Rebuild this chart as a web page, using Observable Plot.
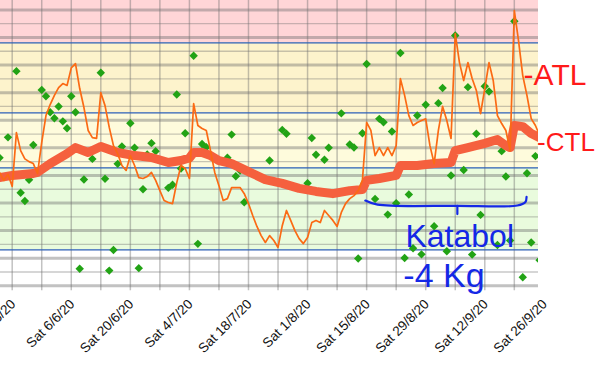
<!DOCTYPE html>
<html><head><meta charset="utf-8">
<script src="https://cdn.jsdelivr.net/npm/d3@7"></script>
<script src="https://cdn.jsdelivr.net/npm/@observablehq/plot@0.6"></script>
<style>html,body{margin:0;padding:0;background:#fff;}#chart{width:596px;height:379px;overflow:hidden;}</style>
</head><body><div id="chart"></div>
<script>
// ---- data (day offsets counted from startDate) ----
const startDate = "2020-05-20";
const atlValues = [
41.1,38.2,40.4,36.0,55.5,49.0,46.0,45.0,44.3,40.7,
52.0,61.7,65.7,69.0,71.8,73.3,72.6,79.0,80.5,71.5,
64.6,56.3,53.7,53.4,70.0,65.3,57.4,50.8,47.9,43.6,
41.8,47.2,43.6,39.2,38.9,39.6,41.1,38.2,34.5,30.9,
30.2,29.8,37.4,43.6,42.5,38.9,66.0,58.1,57.0,56.3,
49.0,41.1,36.3,30.9,31.6,35.6,35.6,35.6,33.4,29.8,
25.5,21.5,18.2,15.7,18.2,16.4,13.9,21.8,27.3,23.7,
20.0,17.1,15.3,17.5,22.9,23.7,22.9,27.3,25.5,23.7,
21.5,26.6,29.8,31.6,32.7,34.5,38.2,59.2,56.3,47.2,
50.1,47.2,50.1,47.2,50.8,75.1,69.0,61.7,58.1,59.2,
59.9,60.5,50.8,44.3,56.3,65.0,59.9,53.4,91.4,80.9,
74.4,80.9,75.1,70.8,62.4,71.5,80.9,74.4,61.7,58.8,
56.3,49.0,99.7,88.8,76.2,68.9,60.6,58.1,54.5];
const ctlDays   = [0,3,8,9,12,16,18,21,24,28,32,36,40,43,45,46,48,50,52,55,59,63,67,71,75,79,83,86,87,90,94,95,99,103,107,108,111,115,118,120,121,122,124,126,128];
const ctlValues = [39.2,40,40.7,41.1,44.3,47.9,50.1,48.3,50.5,48.3,47.2,46.5,44.7,45.4,46.3,48.3,48.3,47.2,45.4,44.3,41.4,38.5,37.1,35.3,34.2,33.4,34.5,34.9,38.2,38.9,40,43.6,43.6,44.3,44.7,49,50.1,51.6,53,50.8,50.1,58.1,57.7,55.2,53.7];
const weightDays   = [0,2,4,5,6,7,8,10,11,12,13,14,15,16,17,18,19,20,22,24,25,26,27,28,29,31,32,33,34,35,36,37,40,41,42,43,44,46,47,48,49,54,55,56,57,58,64,67,68,73,74,75,77,78,81,83,84,85,86,87,89,90,91,92,93,94,95,96,97,98,99,100,101,103,104,105,106,107,108,110,111,112,113,114,115,116,118,119,120,121,122,124,125,126,127,128];
const weightValues = [46.4,53.8,77.8,33.7,30.7,38.4,51.0,71.0,68.7,62.9,60.7,65.0,59.6,57.1,68.7,62.9,6.2,38.5,46.0,77.2,38.8,5.5,13.0,44.2,50.5,58.9,50.0,6.4,35.0,47.6,51.7,48.8,35.5,36.6,69.3,42.5,55.3,83.4,15.2,51.4,50.2,46.4,54.8,39.7,41.8,30.3,45.4,56.5,55.1,37.2,53.6,47.5,45.7,50.0,62.5,51.2,50.1,9.9,55.3,80.4,31.5,60.5,59.3,25.8,55.9,29.9,84.4,10.1,33.1,13.6,61.7,11.4,65.6,21.6,66.2,71.7,12.5,40.0,90.7,42.0,72.0,11.3,55.1,25.7,72.3,70.4,14.8,48.8,39.6,16.4,95.9,3.1,40.8,15.7,47.0,9.3];
const weekTicks  = ["2020-05-23","2020-05-30","2020-06-06","2020-06-13","2020-06-20","2020-06-27","2020-07-04","2020-07-11","2020-07-18","2020-07-25","2020-08-01","2020-08-08","2020-08-15","2020-08-22","2020-08-29","2020-09-05","2020-09-12","2020-09-19"];
const labelTicks = ["2020-05-23","2020-06-06","2020-06-20","2020-07-04","2020-07-18","2020-08-01","2020-08-15","2020-08-29","2020-09-12","2020-09-26"];
const labelTexts = ["Sat 23/5/20","Sat 6/6/20","Sat 20/6/20","Sat 4/7/20","Sat 18/7/20","Sat 1/8/20","Sat 15/8/20","Sat 29/8/20","Sat 12/9/20","Sat 26/9/20"];
const gridMajor = [0,10,20,30,40,50,60,70,80,90,100];
const gridMinor = [5,15,25,35,45,55,65,75,85,95];
const zoneLow   = [0, 13.04, 42.75, 62.68, 88.04];
const zoneHigh  = [13.04, 42.75, 62.68, 88.04, 103.4];
const zoneNames = ["white","green","lightyellow","yellow","red"];
const zoneLines = [13.04, 42.75, 62.68, 88.04];
// hand-drawn notes (day offset, value)
const bracketMain = [[86.7,30.9],[89.6,29.4],[108.5,29.0],[122.7,29.1],[124.6,30.3],[124.9,32.2]];
const bracketTick = [[108.5,29.0],[108.5,26.0]];
const notes = [
  {id:"note-atl", day:124.2, value:72.6, text:"-ATL"},
  {id:"note-ctl", day:127.4, value:49.0, text:"-CTL"},
  {id:"note-katabol", day:96.2, value:14.0, text:"Katabol"},
  {id:"note-kg", day:95.7, value:-0.6, text:"-4 Kg"}
];

// ---- build ----
const t0 = new Date(startDate + "T00:00:00Z");
const day = d => new Date(+t0 + d * 864e5);
const atl = atlValues.map((v,i) => ({date: day(i), v}));
const ctl = ctlDays.map((d,i) => ({date: day(d), v: ctlValues[i]}));
const weight = weightDays.map((d,i) => ({date: day(d), v: weightValues[i]}));
const zones = zoneLow.map((lo,i) => ({lo, hi: zoneHigh[i], name: zoneNames[i]}));
const zoneFill = {white:"#ffffff", green:"#e9fbdd", lightyellow:"#fefbdc", yellow:"#fdf3cc", red:"#ffd5d7"};
const labels = labelTicks.map((d,i) => ({date: new Date(d + "T00:00:00Z"), label: labelTexts[i]}));
const weeks = weekTicks.map(d => new Date(d + "T00:00:00Z"));
const bracket = [...bracketMain.map(p => ({date: day(p[0]), v: p[1], part: "main"})),
                 ...bracketTick.map(p => ({date: day(p[0]), v: p[1], part: "tick"}))];

const gridColor = "#6e6e6e";
const marks = [
  Plot.rect(zones, {y1: "lo", y2: "hi", fill: d => zoneFill[d.name]}),
  Plot.ruleX(weeks, {x: d => d, stroke: gridColor, strokeOpacity: 0.42, strokeWidth: 1.5, insetBottom: -5}),
  Plot.ruleY(gridMinor, {y: d => d, stroke: gridColor, strokeOpacity: 0.38, strokeWidth: 1.3}),
  Plot.ruleY(gridMajor, {y: d => d, stroke: gridColor, strokeOpacity: 0.42, strokeWidth: 3}),
  Plot.ruleY(zoneLines, {y: d => d, stroke: "#2c5fb5", strokeWidth: 1.3}),
  Plot.dot(weight, {x: "date", y: "v", symbol: "diamond2", r: 3.8, fill: "#22a315", stroke: "none", clip: true}),
  Plot.line(ctl, {x: "date", y: "v", stroke: "#f5603e", strokeWidth: 9, strokeLinejoin: "round", clip: true}),
  Plot.line(atl, {x: "date", y: "v", stroke: "#fb6a14", strokeWidth: 1.7, strokeLinejoin: "round", clip: true}),
  Plot.text(labels, {x: "date", text: "label", frameAnchor: "bottom", rotate: -45, textAnchor: "end", lineAnchor: "middle",
    dx: 1, dy: 16, fontSize: 13.5, fill: "#111", fontFamily: "Liberation Sans, Arial, sans-serif", ariaLabel: "date-labels"}),
  Plot.line(bracket, {x: "date", y: "v", z: "part", stroke: "#1428e6", strokeWidth: 2.2, curve: "catmull-rom"}),
];
const noteStyle = {
  "note-atl": {fontSize: 30, fill: "#ff1a1a"},
  "note-ctl": {fontSize: 26, fill: "#ff1a1a"},
  "note-katabol": {fontSize: 32, fill: "#1428e6"},
  "note-kg": {fontSize: 34, fill: "#1428e6"}
};
const noteLength = {"note-atl": 62, "note-ctl": 55, "note-katabol": 103, "note-kg": 100};
for (const n of notes) {
  marks.push(Plot.text([n], {x: d => day(d.day), y: "value", text: "text", textAnchor: "start", lineAnchor: "bottom",
    fontFamily: "Liberation Sans, Arial, sans-serif", ariaLabel: n.id, ...noteStyle[n.id]}));
}

const chart = Plot.plot({
  width: 596, height: 379,
  marginLeft: 0, marginRight: 58, marginTop: 0, marginBottom: 93.7,
  x: {type: "utc", domain: [new Date("2020-05-20T05:28:00Z"), new Date("2020-09-24T17:31:00Z")], axis: null},
  y: {domain: [0, 103.4], axis: null},
  style: {background: "#fff", overflow: "hidden"},
  marks
});
document.getElementById("chart").appendChild(chart);

const svg = d3.select(chart);
svg.insert("defs", ":first-child").append("clipPath").attr("id", "lblclip")
  .append("rect").attr("x", -20).attr("y", -50).attr("width", 557).attr("height", 500);
svg.select('g[aria-label="date-labels"]').attr("clip-path", "url(#lblclip)");
for (const id in noteLength) {
  svg.selectAll(`g[aria-label="${id}"] text`).attr("textLength", noteLength[id]).attr("lengthAdjust", "spacingAndGlyphs");
}
</script></body></html>
